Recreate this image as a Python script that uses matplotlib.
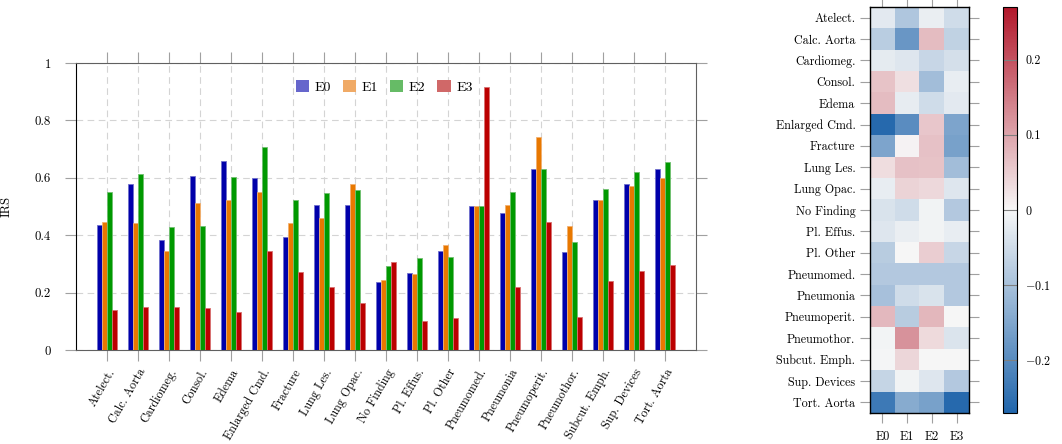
import numpy as np
import matplotlib
matplotlib.use("Agg")
import matplotlib.pyplot as plt
from matplotlib.colors import LinearSegmentedColormap
from matplotlib.patches import Patch

plt.rcParams["font.family"] = ["cmr10", "DejaVu Serif"]
plt.rcParams["mathtext.fontset"] = "cm"
plt.rcParams["axes.formatter.use_mathtext"] = True
plt.rcParams["axes.unicode_minus"] = True

categories = ["Atelect.", "Calc. Aorta", "Cardiomeg.", "Consol.", "Edema",
              "Enlarged Cmd.", "Fracture", "Lung Les.", "Lung Opac.", "No Finding",
              "Pl. Effus.", "Pl. Other", "Pneumomed.", "Pneumonia", "Pneumoperit.",
              "Pneumothor.", "Subcut. Emph.", "Sup. Devices", "Tort. Aorta"]
experiments = ["E0", "E1", "E2", "E3"]

irs_e0 = [0.434, 0.579, 0.385, 0.607, 0.659, 0.600, 0.394, 0.506, 0.506, 0.236,
          0.269, 0.344, 0.501, 0.479, 0.631, 0.343, 0.521, 0.579, 0.631]
irs_e1 = [0.447, 0.441, 0.345, 0.513, 0.523, 0.549, 0.443, 0.459, 0.577, 0.244,
          0.266, 0.366, 0.501, 0.506, 0.742, 0.433, 0.521, 0.572, 0.599]
irs_e2 = [0.551, 0.614, 0.429, 0.431, 0.602, 0.706, 0.521, 0.548, 0.558, 0.293,
          0.321, 0.323, 0.501, 0.551, 0.631, 0.377, 0.560, 0.620, 0.656]
irs_e3 = [0.138, 0.150, 0.150, 0.148, 0.131, 0.345, 0.272, 0.220, 0.164, 0.305,
          0.100, 0.110, 0.917, 0.219, 0.445, 0.114, 0.241, 0.274, 0.295]

# per-finding difference values, columns E0..E3
diff_atelect = [-0.025, -0.090, -0.015, -0.050]
diff_calc_aorta = [-0.078, -0.178, 0.071, -0.068]
diff_cardiomeg = [-0.022, -0.030, -0.060, -0.043]
diff_consol = [0.063, 0.029, -0.106, -0.018]
diff_edema = [0.071, -0.020, -0.050, -0.025]
diff_enlarged_cmd = [-0.262, -0.198, 0.059, -0.153]
diff_fracture = [-0.152, 0.005, 0.064, -0.160]
diff_lung_les = [0.030, 0.064, 0.063, -0.106]
diff_lung_opac = [-0.018, 0.044, 0.036, -0.030]
diff_no_finding = [-0.037, -0.050, -0.007, -0.085]
diff_pl_effus = [-0.030, -0.015, -0.008, -0.018]
diff_pl_other = [-0.080, 0.000, 0.050, -0.060]
diff_pneumomed = [-0.085, -0.085, -0.085, -0.085]
diff_pneumonia = [-0.100, -0.050, -0.037, -0.085]
diff_pneumoperit = [0.075, -0.080, 0.078, -0.002]
diff_pneumothor = [-0.006, 0.121, 0.035, -0.035]
diff_subcut_emph = [-0.004, 0.040, -0.002, -0.002]
diff_sup_devices = [-0.062, -0.008, -0.030, -0.085]
diff_tort_aorta = [-0.233, -0.140, -0.160, -0.262]

diff_rows = [diff_atelect, diff_calc_aorta, diff_cardiomeg, diff_consol, diff_edema,
             diff_enlarged_cmd, diff_fracture, diff_lung_les, diff_lung_opac,
             diff_no_finding, diff_pl_effus, diff_pl_other, diff_pneumomed,
             diff_pneumonia, diff_pneumoperit, diff_pneumothor, diff_subcut_emph,
             diff_sup_devices, diff_tort_aorta]

bar_colors = ["#0000aa", "#e87800", "#009900", "#bb0000"]
edge_colors = ["#7070cc", "#f2b070", "#70c070", "#d87070"]
legend_colors = ["#6666cc", "#f0aa66", "#66bb66", "#d06868"]

FS = 8.7
TICK_GREY = "#a0a0a0"

fig = plt.figure(figsize=(10.62, 4.44), dpi=100)

# ---- grouped bar chart ----
ax = fig.add_axes([76 / 1062, 1 - 350 / 444, 620 / 1062, 287 / 444])
x = np.arange(len(categories))
w = 0.16
series = [irs_e0, irs_e1, irs_e2, irs_e3]
for i, vals in enumerate(series):
    ax.bar(x + (i - 1.5) * w, vals, width=w, color=bar_colors[i],
           edgecolor=edge_colors[i], linewidth=0.6, zorder=3)

ax.set_xlim(-1, len(categories))
ax.set_ylim(0, 1)
ax.set_yticks([0, 0.2, 0.4, 0.6, 0.8, 1])
ax.set_yticklabels(["0", "0.2", "0.4", "0.6", "0.8", "1"], fontsize=FS + 0.5)
ax.set_xticks(x)
ax.set_xticklabels(categories, rotation=60, ha="right", rotation_mode="anchor",
                   fontsize=FS)
ax.tick_params(axis="both", direction="out", length=8, width=0.8, color=TICK_GREY,
               top=True, right=True, labeltop=False, labelright=False)
ax.tick_params(axis="y", pad=10)
ax.tick_params(axis="x", pad=4)
ax.grid(True, color="#d4d4d4", linestyle=(0, (6, 4)), linewidth=0.8, zorder=0)
ax.set_axisbelow(True)
ax.set_ylabel("IRS", fontsize=FS + 0.5, labelpad=16)
for side in ["top", "bottom", "right"]:
    ax.spines[side].set_color("#606060")
ax.spines["left"].set_color("black")

handles = [Patch(facecolor=c, edgecolor="none") for c in legend_colors]
ax.legend(handles, experiments, loc="upper center", bbox_to_anchor=(0.497, 0.985),
          ncol=4, frameon=False, fontsize=FS + 1.3, handlelength=1.0,
          handleheight=1.0, handletextpad=0.4, columnspacing=0.8)

# ---- difference heatmap ----
cmap = LinearSegmentedColormap.from_list("rdbu3", ["#2166ac", "#f7f7f7", "#b2182b"])
vlim = 0.27
hax = fig.add_axes([870 / 1062, 1 - 413 / 444, 99 / 1062, 406 / 444])
im = hax.imshow(np.array(diff_rows), cmap=cmap, vmin=-vlim, vmax=vlim,
                aspect="auto", interpolation="nearest")
hax.set_xticks(np.arange(len(experiments)))
hax.set_xticklabels(experiments, fontsize=FS)
hax.set_yticks(np.arange(len(categories)))
hax.set_yticklabels(categories, fontsize=FS)
hax.tick_params(axis="both", direction="out", length=7, width=0.8, color=TICK_GREY,
                top=True, right=True, labeltop=False, labelright=False)
hax.tick_params(axis="x", pad=6)
for s in hax.spines.values():
    s.set_color("black")
    s.set_linewidth(1.0)

cax = fig.add_axes([1003 / 1062, 1 - 413 / 444, 14 / 1062, 406 / 444])
cb = fig.colorbar(im, cax=cax)
cb.set_ticks([-0.2, -0.1, 0, 0.1, 0.2])
cb.set_ticklabels([r"$-0.2$", r"$-0.1$", "0", "0.1", "0.2"])
cb.ax.tick_params(direction="in", length=10, width=0.8, color="#808080",
                  labelsize=FS, pad=6)
cb.outline.set_edgecolor("black")
cb.outline.set_linewidth(0.8)

fig.savefig("out.png", dpi=100)
